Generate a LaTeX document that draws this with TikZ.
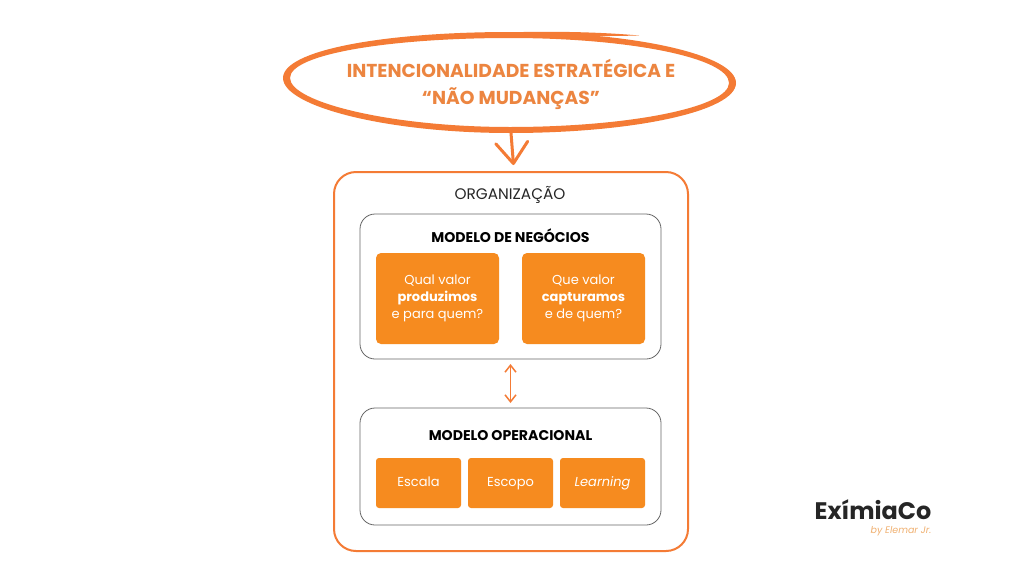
\documentclass[tikz,border=0pt]{standalone}
\usepackage{fontspec}
\usepackage{xcolor}
\usetikzlibrary{arrows.meta,shapes.geometric}
\setmainfont{Poppins}
\definecolor{contorno}{HTML}{F47B35}
\definecolor{caixa}{HTML}{F68B1F}
\definecolor{titulo}{HTML}{EC8540}
\definecolor{assinatura}{HTML}{F0B070}
\tikzset{
  orgbox/.style={draw=contorno,line width=2pt,rounded corners=22pt,minimum width=354pt,minimum height=379pt},
  modelbox/.style={draw=black!60,line width=0.8pt,rounded corners=15pt,minimum width=301pt},
  perguntabox/.style={fill=caixa,rounded corners=5pt,minimum width=123pt,minimum height=91pt,text=white,align=center,font=\fontsize{13}{17}\selectfont},
  itembox/.style={fill=caixa,rounded corners=3pt,minimum width=85pt,minimum height=50pt,text=white,text height=9pt,text depth=3pt,font=\fontsize{13}{17}\selectfont},
  rotulo/.style={font=\fontsize{14.1}{16}\selectfont\bfseries,text=black}
}
\begin{document}
\begin{tikzpicture}[x=1pt,y=-1pt]
\tikzstyle{every node}+=[inner sep=0pt,outer sep=0pt]
\useasboundingbox [fill=white] (0,0) rectangle (1024,576);
\fill [contorno,even odd rule] (283,78) .. controls (283,50) and (385,32) .. (510,32) .. controls (635,32) and (736,55) .. (736,83) .. controls (736,111) and (635,133) .. (510,133) .. controls (385,133) and (283,106) .. (283,78)
  (290,78) .. controls (290,54) and (390,38) .. (510,38) .. controls (630,38) and (729,58) .. (729,83) .. controls (729,107) and (630,127) .. (510,127) .. controls (390,127) and (290,102) .. (290,78);
\fill [contorno] (470,34) .. controls (540,30) and (600,32) .. (639,35.5) .. controls (600,36.5) and (560,36) .. (520,36) -- cycle;
\node [ellipse,minimum width=440pt,minimum height=98pt,align=center,font=\fontsize{18.7}{27}\selectfont\bfseries,text=titulo] (foco) at (511,84) {INTENCIONALIDADE ESTRATÉGICA E\\“NÃO MUDANÇAS”};
\node [orgbox] (organizacao) at (511,361.5) {};
\coordinate (focoFim) at (513.5,165);
\draw [contorno,line width=3pt,-{Straight Barb[length=21pt,width=32pt,round]}] (foco.south) -- (focoFim);
\node [font=\fontsize{15.3}{18}\selectfont,text=black!85] (orgRotulo) at (510,195) {ORGANIZAÇÃO};
\node [modelbox,minimum height=145pt] (negocios) at (510.5,286.5) {};
\node [rotulo] (negociosRotulo) at (510.5,235.5) {MODELO DE NEGÓCIOS};
\node [perguntabox] (valor) at (437.5,298.5) {Qual valor\\\textbf{produzimos}\\e para quem?};
\node [perguntabox] (captura) at (583.5,298.5) {Que valor\\\textbf{capturamos}\\e de quem?};
\node [modelbox,minimum height=117pt] (operacional) at (510.5,466.5) {};
\node [rotulo] (operacionalRotulo) at (510.5,435.5) {MODELO OPERACIONAL};
\node [itembox] (escala) at (418.5,483) {Escala};
\node [itembox] (escopo) at (510.5,483) {Escopo};
\node [itembox] (learning) at (602.5,483) {\itshape Learning};
\draw [contorno,line width=1.5pt,shorten <=5pt,shorten >=5pt,{Straight Barb[length=7pt,width=11pt]}-{Straight Barb[length=7pt,width=11pt]}] (negocios.south) -- (operacional.north);
\node [font=\fontsize{23.9}{26}\selectfont\bfseries,text=black!85] (logo) at (873,510) {ExímiaCo};
\node [font=\fontsize{9.5}{11}\selectfont\itshape,text=assinatura] (logoAssina) at (901,531) {by Elemar Jr.};
\end{tikzpicture}
\end{document}
